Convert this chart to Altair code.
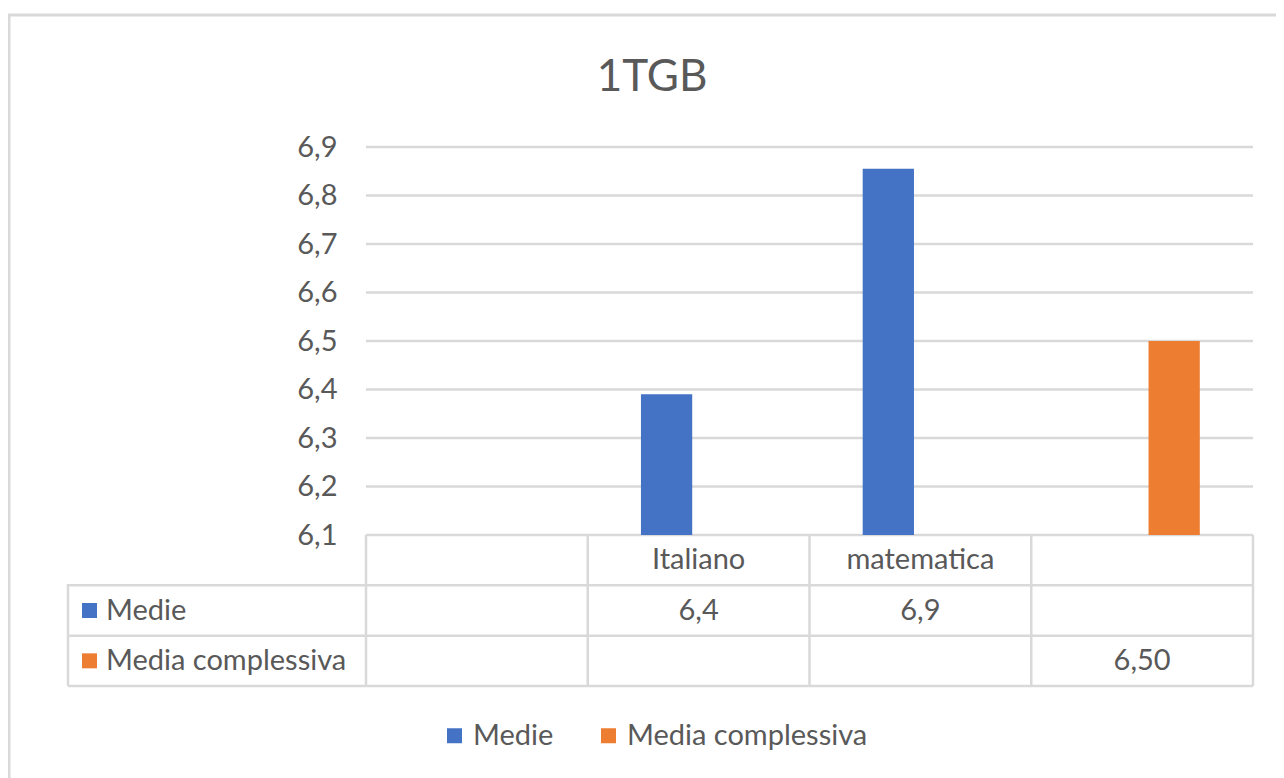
import altair as alt
import pandas as pd

# ---------------- data ----------------
title_text = "1TGB"
cat_keys = ["c0", "c1", "c2", "c3"]
cat_labels = ["", "Italiano", "matematica", ""]
series_names = ["Medie", "Media complessiva"]
medie = [None, 6.39, 6.855, None]
media_complessiva = [None, None, None, 6.50]
series_decimals = [1, 2]
y_ticks = [6.1, 6.2, 6.3, 6.4, 6.5, 6.6, 6.7, 6.8, 6.9]
colors = ["#4472C4", "#ED7D31"]

# ---------------- tables ----------------
series_values = [medie, media_complessiva]
bar_rows, cell_rows = [], []
for k, lab in zip(cat_keys, cat_labels):
    cell_rows.append({"row": "header", "cat": k, "text": lab})
for s, vals, dec in zip(series_names, series_values, series_decimals):
    for k, v in zip(cat_keys, vals):
        if v is not None:
            bar_rows.append({"cat": k, "series": s, "value": v})
            cell_rows.append({"row": s, "cat": k,
                              "text": f"{v:.{dec}f}".replace(".", ",")})
bars_df = pd.DataFrame(bar_rows)
cells_df = pd.DataFrame(cell_rows)
series_df = pd.DataFrame({"series": series_names, "row": series_names})
ticks_df = pd.DataFrame({"t": y_ticks})
cats_df = pd.DataFrame({"cat": cat_keys})
one = pd.DataFrame({"a": [0]})
title_df = pd.DataFrame({"title": [title_text]})

# ---------------- layout ----------------
W, H = 1185, 539
PL, PH = 298, 388
FONT = "Lato"
FS = 29
TXT = "#595959"
GRID = "#D9D9D9"

x_scale = alt.Scale(domain=cat_keys, range=[PL, W], paddingInner=0, paddingOuter=0)
y_bar = alt.Scale(domain=[y_ticks[0], y_ticks[-1]], range=[PH, 0], zero=False, nice=False)
row_domain = ["header"] + series_names
y_tab = alt.Scale(domain=row_domain, range=[PH, H], paddingInner=0, paddingOuter=0)
color_scale = alt.Scale(domain=series_names, range=colors)
legend_def = alt.Legend(
    orient="none", legendX=372, legendY=574, direction="horizontal", title=None,
    symbolType="square", symbolSize=225, symbolStrokeWidth=0, symbolOpacity=1,
    labelFont=FONT, labelFontSize=FS, labelColor=TXT, labelLimit=500,
    labelOffset=4, columnPadding=40,
)

border = alt.Chart(one).mark_rect(fill="transparent", stroke=GRID, strokeWidth=3).encode(
    x=alt.value(-59), x2=alt.value(1260), y=alt.value(-132), y2=alt.value(700)
)

title = alt.Chart(title_df).mark_text(font=FONT, fontSize=44, color=TXT, baseline="middle").encode(
    x=alt.value(584), y=alt.value(-69), text="title:N"
)

grid = alt.Chart(ticks_df).mark_rule(color=GRID, strokeWidth=2.5).encode(
    y=alt.Y("t:Q", scale=y_bar, axis=None), x=alt.value(PL), x2=alt.value(W)
)

bars = alt.Chart(bars_df).mark_bar().encode(
    x=alt.X("cat:N", scale=x_scale, axis=None),
    xOffset=alt.XOffset("series:N", scale=alt.Scale(domain=series_names, paddingInner=0.2, paddingOuter=0.83)),
    y=alt.Y("value:Q", scale=y_bar, axis=alt.Axis(
        values=y_ticks, offset=-PL, grid=False, domain=False, ticks=False,
        labelPadding=29, labelFont=FONT, labelFontSize=FS, labelColor=TXT,
        labelExpr="replace(format(datum.value, '.1f'), '.', ',')", title=None)),
    y2=alt.datum(y_ticks[0]),
    color=alt.Color("series:N", scale=color_scale, legend=legend_def),
)

vlines = alt.Chart(cats_df).mark_rule(color=GRID, strokeWidth=2.5).encode(
    x=alt.X("cat:N", scale=x_scale, bandPosition=0, axis=None),
    y=alt.value(PH), y2=alt.value(H),
)
vline_right = alt.Chart(one).mark_rule(color=GRID, strokeWidth=2.5).encode(
    x=alt.value(W), y=alt.value(PH), y2=alt.value(H)
)
vline_left = alt.Chart(one).mark_rule(color=GRID, strokeWidth=2.5).encode(
    x=alt.value(0), y=alt.value(437), y2=alt.value(H)
)
hlines = alt.Chart(series_df).mark_rule(color=GRID, strokeWidth=2.5).encode(
    y=alt.Y("row:N", scale=y_tab, bandPosition=0, axis=None),
    x=alt.value(0), x2=alt.value(W),
)
hline_bottom = alt.Chart(one).mark_rule(color=GRID, strokeWidth=2.5).encode(
    x=alt.value(0), x2=alt.value(W), y=alt.value(H)
)

cells = alt.Chart(cells_df).mark_text(font=FONT, fontSize=FS, color=TXT).encode(
    x=alt.X("cat:N", scale=x_scale, axis=None),
    y=alt.Y("row:N", scale=y_tab, axis=None),
    text="text:N",
)

squares = alt.Chart(series_df).mark_square(size=225, opacity=1, filled=True).encode(
    x=alt.value(21.5),
    y=alt.Y("row:N", scale=y_tab, axis=None),
    color=alt.Color("series:N", scale=color_scale, legend=legend_def),
)
row_labels = alt.Chart(series_df).mark_text(font=FONT, fontSize=FS, color=TXT, align="left").encode(
    x=alt.value(38),
    y=alt.Y("row:N", scale=y_tab, axis=None),
    text="series:N",
)

chart = alt.layer(
    border, title, grid, bars, vlines, vline_right, vline_left, hlines, hline_bottom,
    cells, squares, row_labels,
).resolve_scale(y="independent").properties(
    width=W, height=H,
    autosize=alt.AutoSizeParams(type="none"),
    padding={"left": 60, "top": 139, "right": 23, "bottom": 92},
    background="white",
).configure_view(stroke=None)

chart.save("out.html", embed_options={"renderer": "svg", "actions": False})
